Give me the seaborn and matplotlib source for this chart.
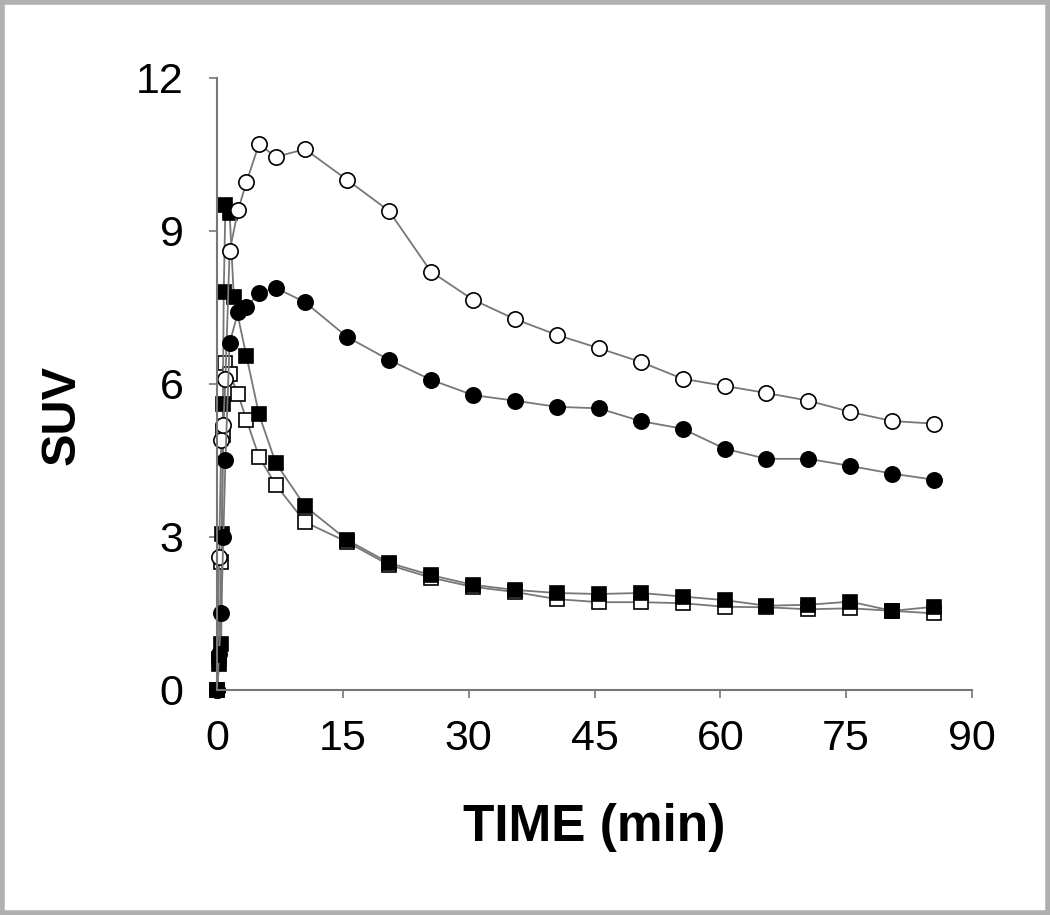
import numpy as np
import pandas as pd
import matplotlib
matplotlib.use('Agg')
import matplotlib.pyplot as plt
import seaborn as sns
from matplotlib.patches import Rectangle

# late frames (min), shared by all four curves
late_t = [15.5, 20.5, 25.5, 30.5, 35.5, 40.5, 45.5, 50.5, 55.5,
          60.5, 65.5, 70.5, 75.5, 80.5, 85.5]

# open circles
oc_t = [0, 0.25, 0.5, 0.75, 1.0, 1.5, 2.5, 3.5, 5, 7, 10.5] + late_t
oc_v = [0, 2.6, 4.9, 5.2, 6.1, 8.6, 9.4, 9.95, 10.7, 10.45, 10.6,
        10.0, 9.39, 8.2, 7.65, 7.27, 6.96, 6.7, 6.43, 6.1, 5.96,
        5.82, 5.67, 5.45, 5.27, 5.22]

# filled circles
fc_t = [0, 0.25, 0.5, 0.75, 1.0, 1.5, 2.5, 3.5, 5, 7, 10.5] + late_t
fc_v = [0, 0.7, 1.5, 3.0, 4.5, 6.8, 7.4, 7.5, 7.78, 7.88, 7.6,
        6.92, 6.47, 6.08, 5.78, 5.67, 5.55, 5.52, 5.27, 5.12, 4.73,
        4.53, 4.53, 4.39, 4.24, 4.12]

# filled squares
fs_t = [0, 0.25, 0.5, 0.6, 0.7, 0.8, 1.0, 1.5, 2.0, 3.5, 5, 7, 10.5] + late_t
fs_v = [0, 0.5, 0.9, 3.05, 5.6, 7.8, 9.5, 9.35, 7.7, 6.55, 5.4, 4.45, 3.6,
        2.94, 2.49, 2.25, 2.06, 1.96, 1.9, 1.88, 1.9, 1.83, 1.76,
        1.65, 1.67, 1.73, 1.55, 1.63]

# open squares
os_t = [0, 0.25, 0.5, 0.75, 1.0, 1.5, 2.5, 3.5, 5, 7, 10.5] + late_t
os_v = [0, 0.6, 2.5, 5.0, 6.4, 6.2, 5.8, 5.3, 4.57, 4.02, 3.29,
        2.9, 2.45, 2.2, 2.02, 1.92, 1.78, 1.72, 1.72, 1.7, 1.63,
        1.62, 1.58, 1.6, 1.55, 1.5]

x_ticks = [0, 15, 30, 45, 60, 75, 90]
y_ticks = [0, 3, 6, 9, 12]

sns.set_style('white')
plt.rcParams['font.family'] = ['Liberation Sans', 'DejaVu Sans']
plt.rcParams['text.color'] = 'black'
plt.rcParams['xtick.labelcolor'] = 'black'
plt.rcParams['ytick.labelcolor'] = 'black'
plt.rcParams['axes.labelcolor'] = 'black'

fig = plt.figure(figsize=(10.5, 9.15), dpi=100)
ax = fig.add_axes([0.2067, 0.246, 0.719, 0.669])

series = [
    (os_t, os_v, 's', 'white', 10),
    (fs_t, fs_v, 's', 'black', 10),
    (oc_t, oc_v, 'o', 'white', 11),
    (fc_t, fc_v, 'o', 'black', 11),
]
for t, v, m, fc, ms in series:
    sns.lineplot(x=t, y=v, ax=ax, sort=False, estimator=None,
                 color='#777777', linewidth=1.3, marker=m,
                 markersize=ms, markerfacecolor=fc,
                 markeredgecolor='black', markeredgewidth=1.2)

ax.set_xlim(0, 90)
ax.set_ylim(0, 12)
ax.set_xticks(x_ticks)
ax.set_yticks(y_ticks)
ax.tick_params(axis='both', labelsize=31, direction='out', length=6,
               width=1.2, color='#777777', left=True, bottom=True)
ax.tick_params(axis='x', pad=15)
ax.tick_params(axis='y', pad=18)
for side in ['top', 'right']:
    ax.spines[side].set_visible(False)
for side in ['left', 'bottom']:
    ax.spines[side].set_color('#777777')
    ax.spines[side].set_linewidth(1.5)
for ln in ax.lines:
    ln.set_clip_on(False)

ax.set_xlabel('TIME (min)', fontsize=37, fontweight='bold',
              va='center', ha='center')
ax.set_ylabel('SUV', fontsize=35, fontweight='bold',
              va='center', ha='center')
ax.xaxis.set_label_coords(0.5, -0.225)
ax.yaxis.set_label_coords(-0.205, 0.449)

# grey frame round the whole picture
fig.patches.append(Rectangle((0.002, 0.002), 0.996, 0.996,
                             transform=fig.transFigure, fill=False,
                             edgecolor='#b0b0b0', linewidth=4))

fig.savefig('out.png', dpi=100)
